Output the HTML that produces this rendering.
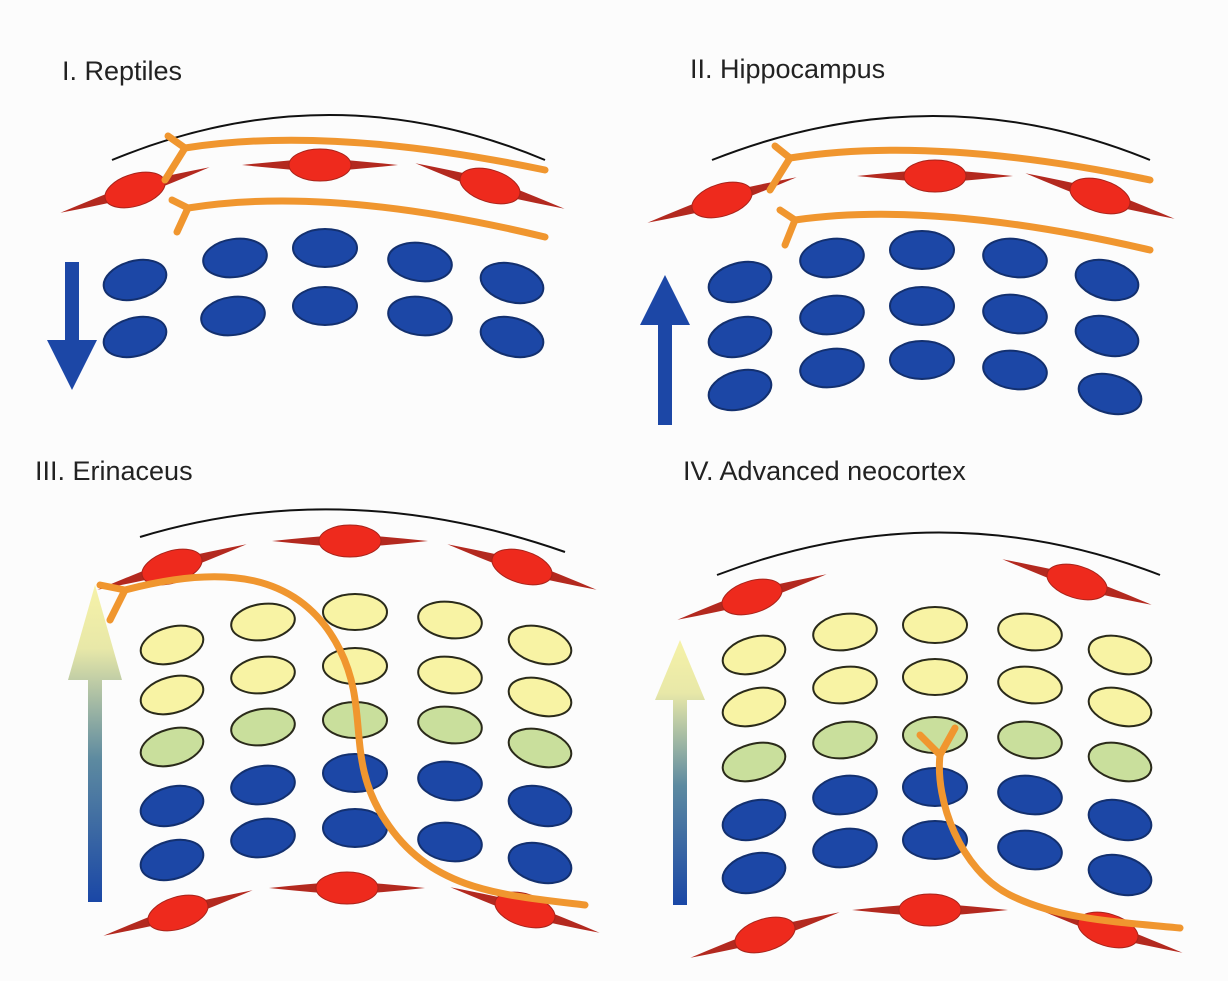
<!DOCTYPE html>
<html><head><meta charset="utf-8"><style>
html,body{margin:0;padding:0;background:#fcfcfc;}
svg{display:block;}
text{font-family:"Liberation Sans",sans-serif;font-size:27px;fill:#222;}
</style></head><body>
<svg width="1228" height="981" viewBox="0 0 1228 981" xmlns="http://www.w3.org/2000/svg">
<defs>
<g id="n">
<path d="M-78,0 Q-40,-4 0,-7 Q40,-4 78,0 Q40,4 0,7 Q-40,4 -78,0Z" fill="#b3291f"/>
<ellipse cx="0" cy="0" rx="31" ry="16" fill="#ee2a1d" stroke="#a8231a" stroke-width="1"/>
</g>
<ellipse id="b" cx="0" cy="0" rx="32" ry="19" fill="#1c47a6" stroke="#13306f" stroke-width="2"/>
<ellipse id="y" cx="0" cy="0" rx="32" ry="18" fill="#f8f3a4" stroke="#2a2a1a" stroke-width="2"/>
<ellipse id="g" cx="0" cy="0" rx="32" ry="18" fill="#c9df9c" stroke="#2a2a1a" stroke-width="2"/>
<linearGradient id="grad" x1="0" y1="1" x2="0" y2="0">
<stop offset="0" stop-color="#1a47a6"/><stop offset="0.45" stop-color="#5d8aa0"/><stop offset="0.8" stop-color="#e8e8a8"/><stop offset="1" stop-color="#f6f2a8"/>
</linearGradient>
</defs>

<text x="62" y="80">I. Reptiles</text>
<text x="690" y="78">II. Hippocampus</text>
<text x="35" y="480">III. Erinaceus</text>
<text x="683" y="480">IV. Advanced neocortex</text>

<!-- Panel I -->
<path d="M112,160 Q330,70 545,160" fill="none" stroke="#111" stroke-width="2"/>
<use href="#n" transform="translate(135,190) rotate(-17)"/>
<use href="#n" transform="translate(320,165)"/>
<use href="#n" transform="translate(490,186) rotate(17)"/>
<g fill="none" stroke="#f0962f" stroke-width="7" stroke-linecap="round">
<path d="M185,148 Q330,125 545,170"/><path d="M185,148 L168,136"/><path d="M185,148 L165,180"/>
<path d="M188,208 Q330,185 545,237"/><path d="M188,208 L172,200"/><path d="M188,208 L177,232"/>
</g>
<use href="#b" transform="translate(135,280) rotate(-15)"/>
<use href="#b" transform="translate(235,258) rotate(-8)"/>
<use href="#b" transform="translate(325,248)"/>
<use href="#b" transform="translate(420,262) rotate(8)"/>
<use href="#b" transform="translate(512,283) rotate(15)"/>
<use href="#b" transform="translate(135,337) rotate(-15)"/>
<use href="#b" transform="translate(233,316) rotate(-8)"/>
<use href="#b" transform="translate(325,306)"/>
<use href="#b" transform="translate(420,316) rotate(8)"/>
<use href="#b" transform="translate(512,337) rotate(15)"/>
<path d="M65,262 H79 V340 H97 L72,390 L47,340 H65Z" fill="#1c47a6"/>

<!-- Panel II -->
<path d="M712,160 Q935,72 1150,160" fill="none" stroke="#111" stroke-width="2"/>
<use href="#n" transform="translate(722,200) rotate(-17)"/>
<use href="#n" transform="translate(935,176)"/>
<use href="#n" transform="translate(1100,196) rotate(17)"/>
<g fill="none" stroke="#f0962f" stroke-width="7" stroke-linecap="round">
<path d="M790,158 Q935,135 1150,180"/><path d="M790,158 L775,146"/><path d="M790,158 L770,190"/>
<path d="M795,220 Q935,200 1150,250"/><path d="M795,220 L780,210"/><path d="M795,220 L785,245"/>
</g>
<use href="#b" transform="translate(740,282) rotate(-15)"/>
<use href="#b" transform="translate(832,258) rotate(-8)"/>
<use href="#b" transform="translate(922,250)"/>
<use href="#b" transform="translate(1015,258) rotate(8)"/>
<use href="#b" transform="translate(1107,280) rotate(15)"/>
<use href="#b" transform="translate(740,337) rotate(-15)"/>
<use href="#b" transform="translate(832,315) rotate(-8)"/>
<use href="#b" transform="translate(922,306)"/>
<use href="#b" transform="translate(1015,314) rotate(8)"/>
<use href="#b" transform="translate(1107,336) rotate(15)"/>
<use href="#b" transform="translate(740,390) rotate(-15)"/>
<use href="#b" transform="translate(832,368) rotate(-8)"/>
<use href="#b" transform="translate(922,360)"/>
<use href="#b" transform="translate(1015,370) rotate(8)"/>
<use href="#b" transform="translate(1110,394) rotate(15)"/>
<path d="M658,425 H672 V325 H690 L665,275 L640,325 H658Z" fill="#1c47a6"/>

<!-- Panel III -->
<path d="M140,537 Q345,475 565,552" fill="none" stroke="#111" stroke-width="2"/>
<use href="#n" transform="translate(172,567) rotate(-17)"/>
<use href="#n" transform="translate(350,541)"/>
<use href="#n" transform="translate(522,567) rotate(17)"/>
<use href="#y" transform="translate(172,645) rotate(-15)"/>
<use href="#y" transform="translate(263,622) rotate(-8)"/>
<use href="#y" transform="translate(355,612)"/>
<use href="#y" transform="translate(450,620) rotate(8)"/>
<use href="#y" transform="translate(540,645) rotate(15)"/>
<use href="#y" transform="translate(172,695) rotate(-15)"/>
<use href="#y" transform="translate(263,675) rotate(-8)"/>
<use href="#y" transform="translate(355,666)"/>
<use href="#y" transform="translate(450,675) rotate(8)"/>
<use href="#y" transform="translate(540,697) rotate(15)"/>
<use href="#g" transform="translate(172,747) rotate(-15)"/>
<use href="#g" transform="translate(263,727) rotate(-8)"/>
<use href="#g" transform="translate(355,720)"/>
<use href="#g" transform="translate(450,725) rotate(8)"/>
<use href="#g" transform="translate(540,748) rotate(15)"/>
<use href="#b" transform="translate(172,806) rotate(-15)"/>
<use href="#b" transform="translate(263,785) rotate(-8)"/>
<use href="#b" transform="translate(355,773)"/>
<use href="#b" transform="translate(450,781) rotate(8)"/>
<use href="#b" transform="translate(540,806) rotate(15)"/>
<use href="#b" transform="translate(172,860) rotate(-15)"/>
<use href="#b" transform="translate(263,838) rotate(-8)"/>
<use href="#b" transform="translate(355,828)"/>
<use href="#b" transform="translate(450,842) rotate(8)"/>
<use href="#b" transform="translate(540,863) rotate(15)"/>
<use href="#n" transform="translate(178,913) rotate(-17)"/>
<use href="#n" transform="translate(347,888)"/>
<use href="#n" transform="translate(525,910) rotate(17)"/>
<g fill="none" stroke="#f0962f" stroke-width="7" stroke-linecap="round">
<path d="M125,590 C220,565 300,570 340,650 C370,710 345,760 385,820 C430,890 500,895 585,905"/>
<path d="M125,590 L100,585"/><path d="M125,590 L110,620"/>
</g>
<path d="M88,902 H102 V680 H122 L95,585 L68,680 H88Z" fill="url(#grad)"/>

<!-- Panel IV -->
<path d="M717,575 Q940,490 1160,575" fill="none" stroke="#111" stroke-width="2"/>
<use href="#n" transform="translate(752,597) rotate(-17)"/>
<use href="#n" transform="translate(1077,582) rotate(17)"/>
<use href="#y" transform="translate(754,655) rotate(-15)"/>
<use href="#y" transform="translate(845,632) rotate(-8)"/>
<use href="#y" transform="translate(935,625)"/>
<use href="#y" transform="translate(1030,632) rotate(8)"/>
<use href="#y" transform="translate(1120,655) rotate(15)"/>
<use href="#y" transform="translate(754,707) rotate(-15)"/>
<use href="#y" transform="translate(845,685) rotate(-8)"/>
<use href="#y" transform="translate(935,677)"/>
<use href="#y" transform="translate(1030,685) rotate(8)"/>
<use href="#y" transform="translate(1120,707) rotate(15)"/>
<use href="#g" transform="translate(754,762) rotate(-15)"/>
<use href="#g" transform="translate(845,740) rotate(-8)"/>
<use href="#g" transform="translate(935,735)"/>
<use href="#g" transform="translate(1030,740) rotate(8)"/>
<use href="#g" transform="translate(1120,762) rotate(15)"/>
<use href="#b" transform="translate(754,820) rotate(-15)"/>
<use href="#b" transform="translate(845,795) rotate(-8)"/>
<use href="#b" transform="translate(935,787)"/>
<use href="#b" transform="translate(1030,795) rotate(8)"/>
<use href="#b" transform="translate(1120,820) rotate(15)"/>
<use href="#b" transform="translate(754,873) rotate(-15)"/>
<use href="#b" transform="translate(845,848) rotate(-8)"/>
<use href="#b" transform="translate(935,840)"/>
<use href="#b" transform="translate(1030,850) rotate(8)"/>
<use href="#b" transform="translate(1120,875) rotate(15)"/>
<use href="#n" transform="translate(765,935) rotate(-17)"/>
<use href="#n" transform="translate(930,910)"/>
<use href="#n" transform="translate(1108,930) rotate(17)"/>
<g fill="none" stroke="#f0962f" stroke-width="7" stroke-linecap="round">
<path d="M940,755 C935,800 960,870 1010,895 C1060,920 1120,922 1180,928"/>
<path d="M940,755 L920,735"/><path d="M940,755 L955,728"/>
</g>
<path d="M673,905 H687 V700 H705 L680,640 L655,700 H673Z" fill="url(#grad)"/>
</svg>
</body></html>
